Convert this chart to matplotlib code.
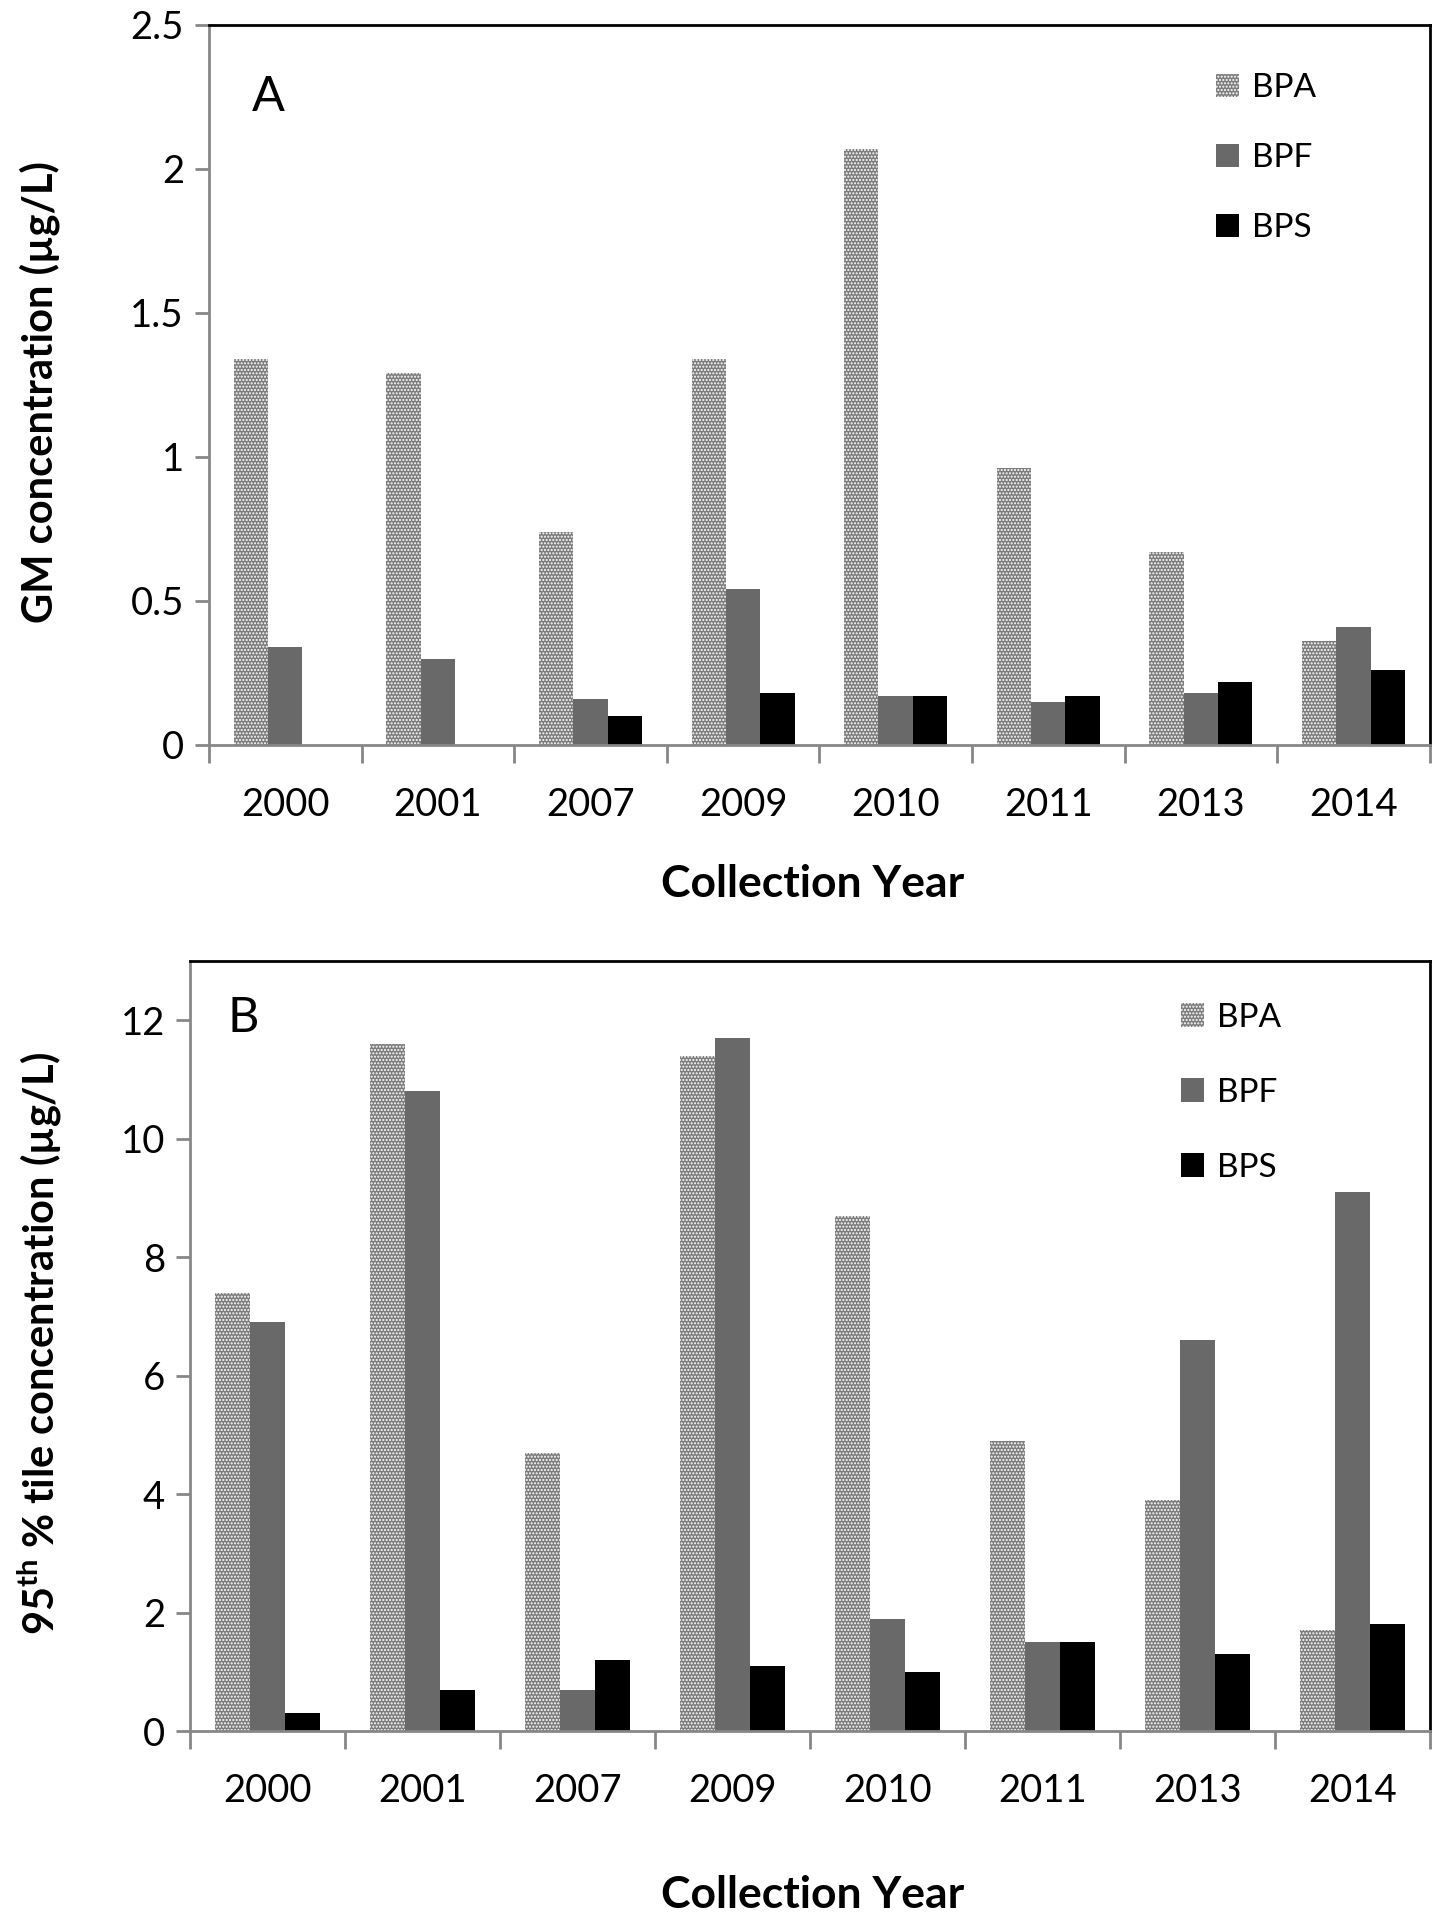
import numpy as np
from matplotlib import pyplot as plt

plt.rcParams['font.family'] = ['Lato', 'DejaVu Sans']
plt.rcParams['mathtext.fontset'] = 'custom'
plt.rcParams['mathtext.rm'] = 'Lato'
plt.rcParams['mathtext.bf'] = 'Lato:bold'
plt.rcParams['hatch.linewidth'] = 1.0

years = ['2000', '2001', '2007', '2009', '2010', '2011', '2013', '2014']
series = ['BPA', 'BPF', 'BPS']

# panel A: geometric mean (ug/L)
gm_bpa = [1.34, 1.29, 0.74, 1.34, 2.07, 0.96, 0.67, 0.36]
gm_bpf = [0.34, 0.30, 0.16, 0.54, 0.17, 0.15, 0.18, 0.41]
gm_bps = [0.0, 0.0, 0.10, 0.18, 0.17, 0.17, 0.22, 0.26]

# panel B: 95th percentile (ug/L)
p95_bpa = [7.4, 11.6, 4.7, 11.4, 8.7, 4.9, 3.9, 1.7]
p95_bpf = [6.9, 10.8, 0.7, 11.7, 1.9, 1.5, 6.6, 9.1]
p95_bps = [0.3, 0.7, 1.2, 1.1, 1.0, 1.5, 1.3, 1.8]

gris = '#878787'


def panel(ax, vals, ymax, ystep, letra, letra_xy, leg_xy, espacio):
    x = np.arange(len(years))
    w = 0.225
    ax.bar(x - w, vals[0], w, facecolor='#7c7c7c', edgecolor='white', hatch='.....',
           linewidth=0, label=series[0])
    ax.bar(x, vals[1], w, color='#696969', label=series[1])
    ax.bar(x + w, vals[2], w, color='black', label=series[2])
    ax.set_xlim(-0.5, len(years) - 0.5)
    ax.set_ylim(0, ymax)
    ax.set_yticks(np.arange(0, ymax + 1e-9, ystep))
    ax.set_yticklabels(['%g' % t for t in np.arange(0, ymax + 1e-9, ystep)])
    ax.set_xticks(x)
    ax.set_xticklabels(years)
    ax.set_xticks(np.arange(-0.5, len(years), 1), minor=True)
    ax.tick_params(axis='x', which='major', length=0, pad=30, labelsize=27.5)
    ax.tick_params(axis='x', which='minor', length=13, width=2, color=gris)
    ax.tick_params(axis='y', length=10, width=2, color=gris, pad=8, labelsize=27.5)
    ax.spines['left'].set_color(gris)
    ax.spines['bottom'].set_color(gris)
    for s in ['top', 'right']:
        ax.spines[s].set_color('black')
    for s in ax.spines.values():
        s.set_linewidth(2)
    ax.text(letra_xy[0], letra_xy[1], letra, transform=ax.transAxes, fontsize=35,
            ha='left', va='center')
    ax.legend(loc='upper left', bbox_to_anchor=leg_xy, frameon=False, fontsize=24,
              handlelength=0.7, handleheight=0.7, labelspacing=espacio, handletextpad=0.4)


fig = plt.figure(figsize=(14.53, 19.2), dpi=100)
axA = fig.add_axes([0.1438, 0.612, 0.8402, 0.375])
axB = fig.add_axes([0.1308, 0.0984, 0.8532, 0.401])

panel(axA, [gm_bpa, gm_bpf, gm_bps], 2.5, 0.5, 'A', (0.035, 0.9), (0.80, 0.975), 1.2)
panel(axB, [p95_bpa, p95_bpf, p95_bps], 13, 2, 'B', (0.03, 0.926), (0.775, 0.985), 1.35)
axB.set_yticks(np.arange(0, 13, 2))
axB.set_yticklabels([str(t) for t in range(0, 13, 2)])

fig.text(0.027, 0.796, 'GM concentration (µg/L)', rotation=90, ha='center', va='center',
         fontsize=30, fontweight='bold')
fig.text(0.027, 0.300, r'95$^{\mathbf{th}}$ % tile concentration (µg/L)', rotation=90,
         ha='center', va='center', fontsize=30, fontweight='bold')
fig.text(0.559, 0.5396, 'Collection Year', ha='center', va='center', fontsize=32,
         fontweight='bold')
fig.text(0.559, 0.013, 'Collection Year', ha='center', va='center', fontsize=32,
         fontweight='bold')

fig.savefig('out.png', dpi=100)
